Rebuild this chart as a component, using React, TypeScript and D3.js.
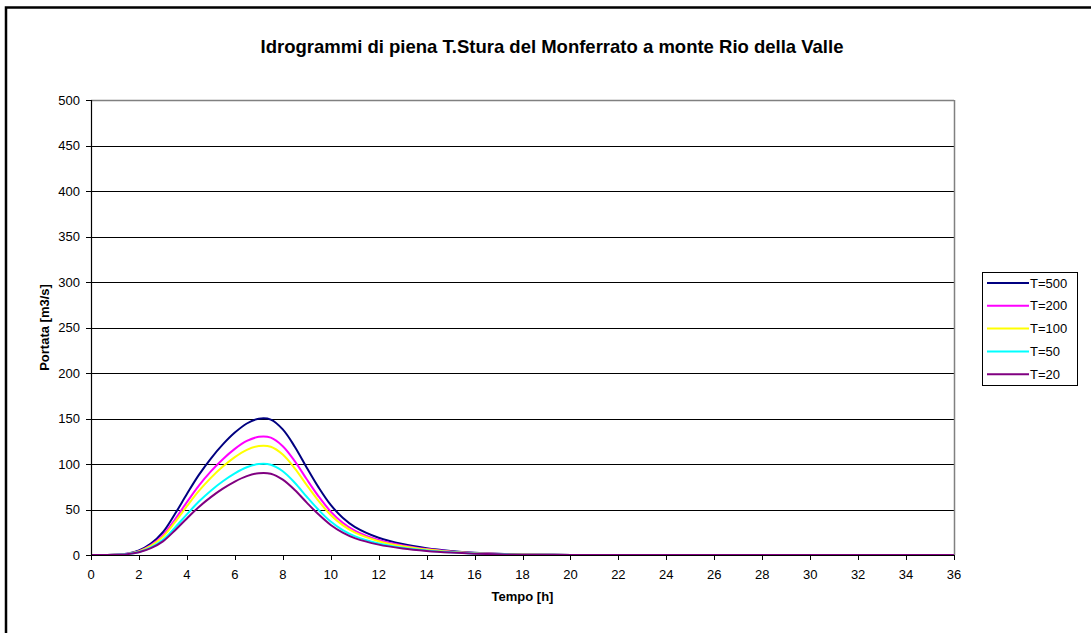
import React from "react";
import * as d3 from "d3";

const hours = [0, 1, 1.5, 2, 2.5, 3, 3.5, 4, 4.5, 5, 5.5, 6, 6.5, 7, 7.5, 8, 8.5, 9, 9.5, 10, 10.5, 11, 12, 13, 14, 15, 16, 17, 18, 20, 22, 36];
const t500 = [0, 0.3, 1.5, 5, 12.5, 25, 45, 67, 88, 106, 121.5, 134.5, 144.5, 149.8, 148.8, 138, 119, 96, 74, 55, 41, 31, 19, 12, 7.5, 4.5, 2.5, 1.3, 0.6, 0.1, 0, 0];
const t200 = [0, 0.26, 1.3, 4.3, 10.8, 21.7, 39, 58.1, 76.3, 91.9, 105.3, 116.6, 125.3, 129.9, 129, 119.6, 103.2, 83.2, 64.2, 47.7, 35.5, 26.9, 16.5, 10.4, 6.5, 3.9, 2.2, 1.1, 0.5, 0.1, 0, 0];
const t100 = [0, 0.24, 1.2, 4, 10, 20, 36, 53.6, 70.4, 84.8, 97.2, 107.6, 115.6, 119.8, 119, 110.4, 95.2, 76.8, 59.2, 44, 32.8, 24.8, 15.2, 9.6, 6, 3.6, 2, 1, 0.5, 0.1, 0, 0];
const t50 = [0, 0.2, 1, 3.3, 8.3, 16.7, 30, 44.7, 58.7, 70.7, 81, 89.7, 96.4, 99.9, 99.2, 92, 79.4, 64, 49.4, 36.7, 27.3, 20.7, 12.7, 8, 5, 3, 1.7, 0.9, 0.4, 0.1, 0, 0];
const t20 = [0, 0.18, 0.9, 3, 7.5, 15, 27, 40.2, 52.8, 63.6, 72.9, 80.7, 86.7, 89.9, 89.3, 82.8, 71.4, 57.6, 44.4, 33, 24.6, 18.6, 11.4, 7.2, 4.5, 2.7, 1.5, 0.8, 0.4, 0.1, 0, 0];

const seriesNames = ["T=500", "T=200", "T=100", "T=50", "T=20"];
const seriesValues = [t500, t200, t100, t50, t20];
const seriesColors = ["#000080", "#FF00FF", "#FFFF00", "#00FFFF", "#800080"];

const xTicks = d3.range(0, 37, 2);
const yTicks = d3.range(0, 501, 50);

const title = "Idrogrammi di piena T.Stura del Monferrato a monte Rio della Valle";
const xTitle = "Tempo [h]";
const yTitle = "Portata [m3/s]";

export default function App() {
  const W = 1091, H = 633;
  const left = 91, right = 954, top = 100, bottom = 555;
  const x = d3.scaleLinear().domain([0, 36]).range([left, right]);
  const y = d3.scaleLinear().domain([0, 500]).range([bottom, top]);
  const line = d3
    .line<number>()
    .x((_, i) => x(hours[i]))
    .y((d) => y(Math.max(0, d)))
    .curve(d3.curveCatmullRom.alpha(0.5));
  const font = "'Liberation Sans', Arial, sans-serif";
  const legX = 982, legY = 272, legW = 95, legH = 113;
  return (
    <svg width={W} height={H} style={{ position: "absolute", left: 0, top: 0, background: "#fff" }} fontFamily={font}>
      <rect x={0} y={0} width={W} height={H} fill="#fff" />
      <rect x={6} y={7.5} width={W + 20} height={H + 20} fill="none" stroke="#000" strokeWidth={2.5} />
      <text x={552} y={53} textAnchor="middle" fontSize={18.5} fontWeight="bold">{title}</text>
      {yTicks.map((t) => (
        <g key={"y" + t}>
          {t > 0 && t < 500 && (
            <line x1={left} x2={right} y1={Math.round(y(t)) + 0.5} y2={Math.round(y(t)) + 0.5} stroke="#000" strokeWidth={1} />
          )}
          <line x1={left - 5} x2={left} y1={Math.round(y(t)) + 0.5} y2={Math.round(y(t)) + 0.5} stroke="#000" />
          <text x={left - 11} y={y(t) + 4.5} textAnchor="end" fontSize={13}>{t}</text>
        </g>
      ))}
      <line x1={left} x2={right} y1={top + 0.5} y2={top + 0.5} stroke="#808080" strokeWidth={1.5} />
      <line x1={right + 0.5} x2={right + 0.5} y1={top} y2={bottom} stroke="#808080" strokeWidth={1.5} />
      {seriesValues.map((vals, i) => (
        <path key={seriesNames[i]} d={line(vals) || ""} fill="none" stroke={seriesColors[i]} strokeWidth={2} strokeLinejoin="round" />
      ))}
      <line x1={left + 0.5} x2={left + 0.5} y1={top} y2={bottom} stroke="#000" strokeWidth={1.2} />
      <line x1={left} x2={right} y1={bottom + 0.5} y2={bottom + 0.5} stroke="#000" strokeWidth={1.2} />
      {xTicks.map((t) => (
        <g key={"x" + t}>
          <line x1={Math.round(x(t)) + 0.5} x2={Math.round(x(t)) + 0.5} y1={bottom} y2={bottom + 5} stroke="#000" />
          <text x={x(t)} y={579} textAnchor="middle" fontSize={13}>{t}</text>
        </g>
      ))}
      <text x={(left + right) / 2} y={601} textAnchor="middle" fontSize={13} fontWeight="bold">{xTitle}</text>
      <text transform={`translate(49,${(top + bottom) / 2}) rotate(-90)`} textAnchor="middle" fontSize={13} fontWeight="bold">{yTitle}</text>
      <rect x={legX + 0.5} y={legY + 0.5} width={legW} height={legH} fill="#fff" stroke="#000" strokeWidth={1} />
      {seriesNames.map((n, i) => {
        const yy = legY + 11 + i * 22.8;
        return (
          <g key={"leg" + n}>
            <line x1={987} x2={1029} y1={yy} y2={yy} stroke={seriesColors[i]} strokeWidth={2} />
            <text x={1030} y={yy + 4.5} fontSize={13}>{n}</text>
          </g>
        );
      })}
    </svg>
  );
}
